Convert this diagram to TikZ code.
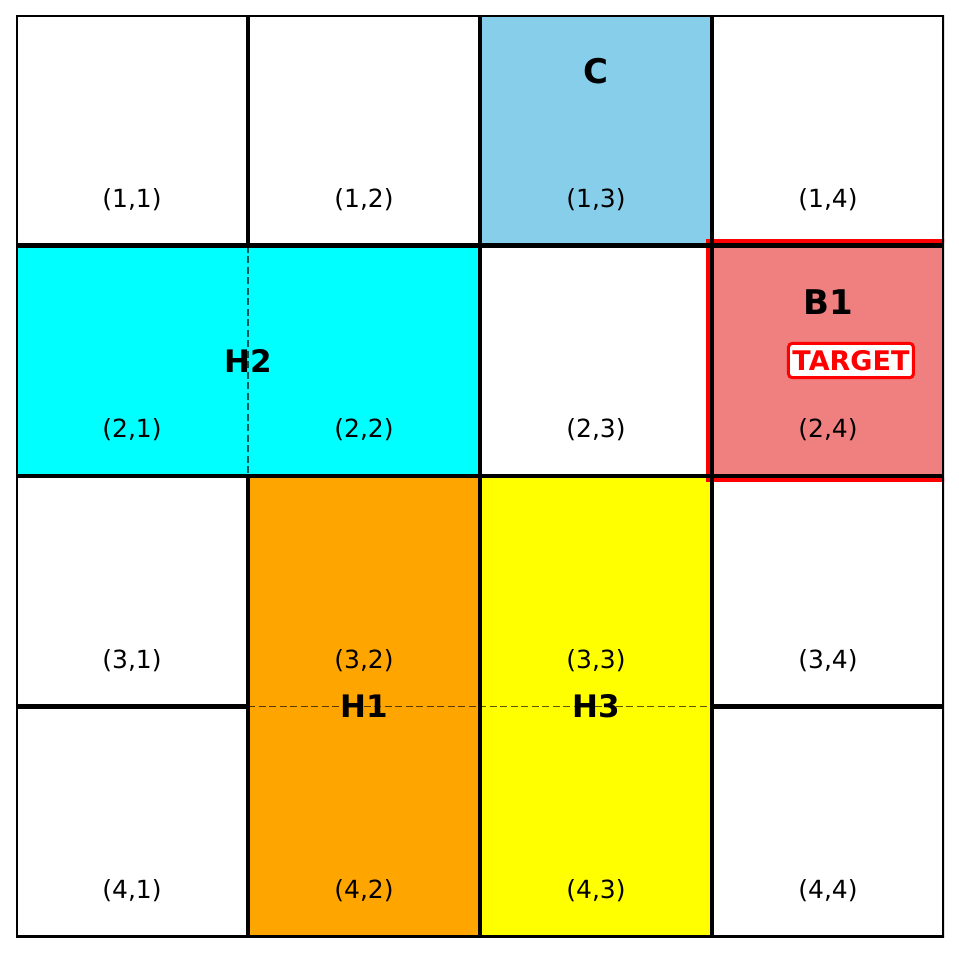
\documentclass[tikz,border=0pt]{standalone}
\usepackage{fontspec}
\setmainfont{DejaVu Sans}
\usetikzlibrary{positioning}
\definecolor{cellsky}{HTML}{87CEEB}
\definecolor{hcyan}{HTML}{00FFFF}
\definecolor{horange}{HTML}{FFA500}
\definecolor{hyellow}{HTML}{FFFF00}
\definecolor{bcoral}{HTML}{F08080}
\definecolor{tred}{HTML}{FF0000}

\begin{document}
\begin{tikzpicture}[x=232pt,y=-230.5pt,
  cellnum/.style={font=\fontsize{25}{25}\selectfont},
  blocklbl/.style={font=\fontsize{31}{31}\selectfont\bfseries},
  bldlbl/.style={font=\fontsize{34}{34}\selectfont\bfseries},
  gridline/.style={line width=4.5pt,black},
  mergeline/.style={line width=1.8pt,black,opacity=0.65,dash pattern=on 7pt off 3.5pt},
  targetbox/.style={draw=tred,fill=white,line width=3pt,rounded corners=4pt,text=tred,
    font=\fontsize{27}{27}\selectfont\bfseries,inner xsep=4pt,inner ysep=7pt}]
  \useasboundingbox (-0.06897,-0.06508) rectangle (4.06466,4.06941);

  % coloured blocks
  \fill[cellsky] (2,0) rectangle (3,1);
  \fill[hcyan] (0,1) rectangle (2,2);
  \fill[bcoral] (3,1) rectangle (4,2);
  \fill[horange] (1,2) rectangle (2,4);
  \fill[hyellow] (2,2) rectangle (3,4);

  \begin{scope}
    \clip (0,0) rectangle (4,4);
    % target outline
    \draw[tred,line width=3.5pt] (2.98276,0.98048) rectangle (4.01724,2.01735);
    % grid
    \draw[gridline] (0,0) rectangle (4,4);
    \draw[gridline] (1,0) -- (1,1) (1,2) -- (1,4);
    \draw[gridline] (2,0) -- (2,4) (3,0) -- (3,4);
    \draw[gridline] (0,1) -- (4,1) (0,2) -- (4,2);
    \draw[gridline] (0,3) -- (1,3) (3,3) -- (4,3);
    % merged cell seams
    \draw[mergeline] (1,1) -- (1,2);
    \draw[mergeline] (1,3) -- (3,3);
  \end{scope}

  % cell numbers
  \foreach \r in {1,...,4}
    \foreach \c in {1,...,4}
      \node[cellnum] (n\r\c) at (\c-0.5,\r-0.1996) {(\r,\c)};

  % block labels
  \node[bldlbl] (c) at (2.5,0.243) {C};
  \node[bldlbl] (b1) at (3.5,1.247) {B1};
  \node[targetbox] (target) at (3.599,1.499) {TARGET};
  \node[blocklbl] (h2) at (1,1.5) {H2};
  \node[blocklbl] (h1) at (1.5,3) {H1};
  \node[blocklbl] (h3) at (2.5,3) {H3};
\end{tikzpicture}
\end{document}
